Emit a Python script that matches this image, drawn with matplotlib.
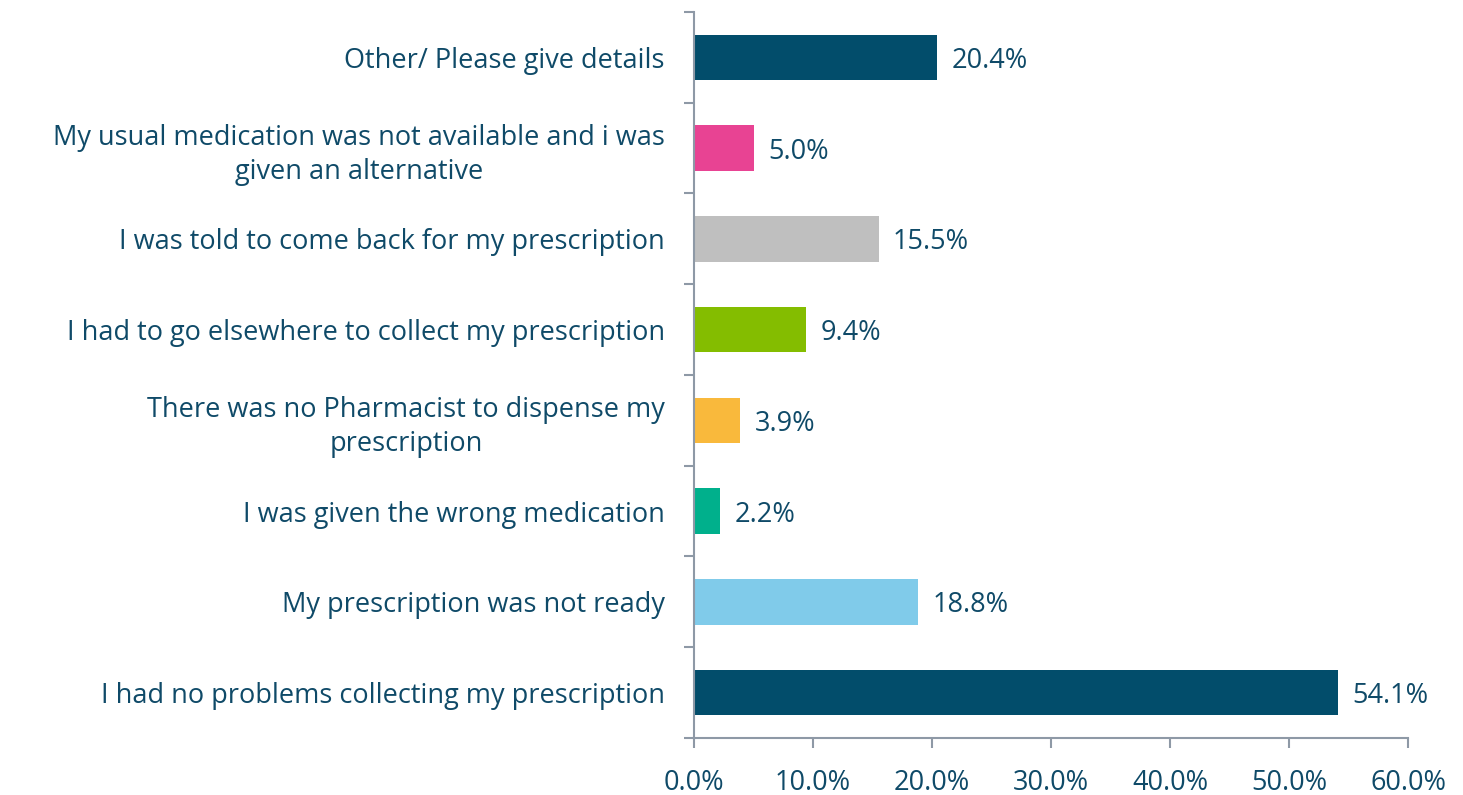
import numpy as np
import matplotlib.pyplot as plt
from matplotlib.ticker import FuncFormatter, FixedLocator

# Data (top to bottom as shown)
labels = [
    'Other/ Please give details',
    'My usual medication was not available and i was\ngiven an alternative',
    'I was told to come back for my prescription',
    'I had to go elsewhere to collect my prescription',
    'There was no Pharmacist to dispense my\nprescription',
    'I was given the wrong medication',
    'My prescription was not ready',
    'I had no problems collecting my prescription',
]
values = [20.4, 5.0, 15.5, 9.4, 3.9, 2.2, 18.8, 54.1]
colors = ['#024D6B', '#E84393', '#BFBFBF', '#84BD00', '#F9B93C', '#00B08C', '#80CBEA', '#024D6B']

text_color = '#0F4A68'
axis_color = '#8E99A6'
plt.rcParams['font.family'] = ['Open Sans', 'DejaVu Sans']
fs = 19.5

fig = plt.figure(figsize=(14.63, 7.95), dpi=100)
ax = fig.add_axes([0.4744, 0.0717, 0.4882, 0.9133])

n = len(values)
y = np.arange(n)[::-1]
ax.barh(y, values, height=0.5, color=colors)

for yi, v in zip(y, values):
    ax.text(v + 1.2, yi, f'{v:.1f}%', va='center_baseline', ha='left', fontsize=fs, color=text_color)

ax.set_xlim(0, 60)
ax.set_ylim(-0.5, n - 0.5)
ax.set_xticks(np.arange(0, 61, 10))
ax.xaxis.set_major_formatter(FuncFormatter(lambda x, p: f'{x:.1f}%'))
ax.set_yticks(y)
ax.set_yticklabels(labels, multialignment='center', linespacing=1.3)
ax.yaxis.set_minor_locator(FixedLocator(np.arange(-0.5, n, 1.0)))

ax.tick_params(axis='y', which='major', length=0, pad=21, labelsize=fs, labelcolor=text_color)
ax.tick_params(axis='y', which='minor', length=7, width=1.5, color=axis_color)
ax.tick_params(axis='x', which='major', length=7, width=1.5, color=axis_color, pad=15,
               labelsize=fs, labelcolor=text_color)

for s in ['top', 'right']:
    ax.spines[s].set_visible(False)
for s in ['left', 'bottom']:
    ax.spines[s].set_color(axis_color)
    ax.spines[s].set_linewidth(1.5)

fig.savefig('out.png', dpi=100)
